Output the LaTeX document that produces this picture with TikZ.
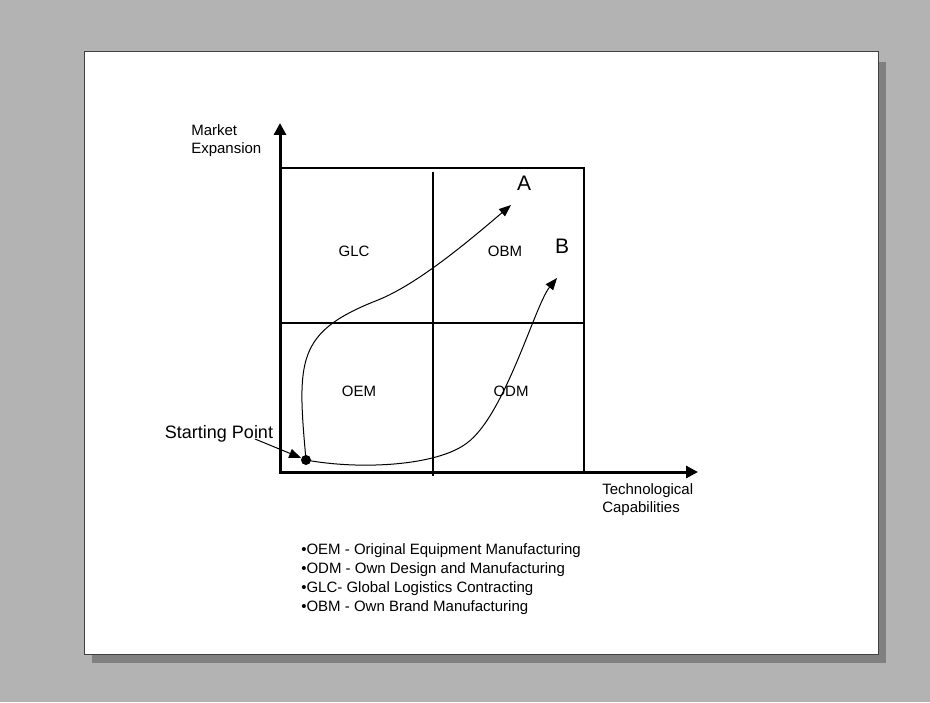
\documentclass[tikz,border=0pt]{standalone}
\usepackage{fontspec}
\setmainfont{Liberation Sans}
\usetikzlibrary{arrows.meta}
\definecolor{bggray}{RGB}{179,179,179}
\definecolor{shadowgray}{RGB}{128,128,128}

\begin{document}
\begin{tikzpicture}[x=0.75pt,y=-0.75pt,
  lbl/.style={font=\fontsize{11.25}{13.5}\selectfont,inner sep=0pt},
  big/.style={font=\fontsize{15.75}{18}\selectfont,inner sep=0pt},
  axisline/.style={line width=2.25pt,{Triangle[length=9pt,width=9pt]}-{Triangle[length=9pt,width=9pt]}},
  quad/.style={line width=0.9pt},
  route/.style={line width=0.75pt,-{Triangle[length=9pt,width=7pt]}}]
  \fill[bggray] (0,0) rectangle (930,702);
  \fill[shadowgray] (92,62) rectangle (886,663);
  \draw[fill=white,draw=black!75,line width=0.75pt] (84,52) rectangle (878,654);

  \draw[quad] (280,168) -- (584,168) -- (584,472);
  \draw[quad] (280,323) -- (584,323);
  \draw[quad] (433,172) -- (433,476);
  \coordinate (O) at (280,472);
  \coordinate (ytip) at (280,123);
  \coordinate (xtip) at (698,472);
  \draw[axisline] (ytip) -- (O) -- (xtip);

  \node[lbl,align=left,anchor=west] (ylab) at (191,141) {Market\\Expansion};
  \node[lbl,align=left,anchor=west] (xlab) at (602,500) {Technological\\Capabilities};
  \foreach \x/\y/\q in {354/251/GLC,505/251/OBM,359/391/OEM,511/391/ODM}{
  \node[lbl] (\q) at (\x,\y) {\q};
  }
  \node[big] (A) at (524,183) {A};
  \node[big] (B) at (562,246) {B};

  \node[circle,fill,inner sep=0pt,minimum size=7.5pt] (start) at (306,460) {};
  \node[font=\fontsize{13.5}{16}\selectfont,inner sep=0pt] (sp) at (219,434) {Starting Point};
  \coordinate (sptail) at (255,439);
  \coordinate (tipA) at (511,205);
  \coordinate (tipB) at (557,278);
  \draw[route] (sptail) -- (start);
  \draw[route] (start.center) .. controls (297,360) and (296,332) .. (378,300) .. controls (418,284) and (470,240) .. (tipA);
  \draw[route] (start.center) .. controls (360,470) and (437,466) .. (467,443) .. controls (505,415) and (535,305) .. (tipB);

  \foreach \t [count=\i] in {OEM - Original Equipment Manufacturing,ODM - Own Design and Manufacturing,GLC- Global Logistics Contracting,OBM - Own Brand Manufacturing}{
  \node[lbl,anchor=west] (leg\i) at (301,{532+19*\i}) {\textbullet\t};
  }
\end{tikzpicture}
\end{document}
